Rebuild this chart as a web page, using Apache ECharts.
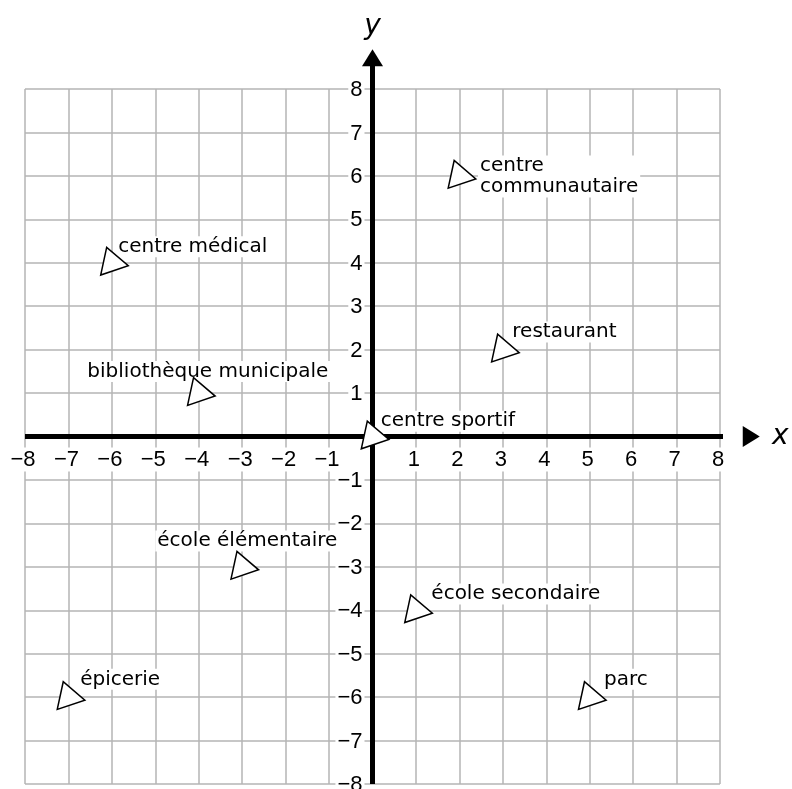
<!DOCTYPE html>
<html>
<head>
<meta charset="utf-8">
<script src="https://cdn.jsdelivr.net/npm/echarts@6/dist/echarts.min.js"></script>
<style>
html,body{margin:0;padding:0;background:#fff;}
#chart{width:792px;height:789px;}
</style>
</head>
<body>
<div id="chart"></div>
<script>
// ---- data ----
const places = ['centre communautaire', 'centre médical', 'restaurant', 'bibliothèque municipale', 'centre sportif', 'école élémentaire', 'école secondaire', 'épicerie', 'parc'];
const placeLabels = ['centre\ncommunautaire', 'centre médical', 'restaurant', 'bibliothèque municipale', 'centre sportif', 'école élémentaire', 'école secondaire', 'épicerie', 'parc'];
const placeX = [2, -6, 3, -4, 0, -3, 1, -7, 5];
const placeY = [6, 4, 2, 1, 0, -3, -4, -6, -6];
const axisMin = -8;
const axisMax = 8;
const axisStep = 1;
const axisArrowReach = 8.6;   // where the thick axis line stops (axis units)
const axisArrowCenter = 8.72; // centre of the arrow head (axis units)

// ---- layout ----
const GRID_LEFT = 25, GRID_TOP = 89, GRID_SIZE = 695;
const labelOffsets = [[18.6, 0.6], [4.4, -16], [7.5, -17.6], [-113.4, -21.6], [6.2, -15.3], [-86.9, -25.8], [13.4, -16.3], [9.8, -17.8], [12.3, -17.8]];

const FONT = 'DejaVu Sans';
const TICK_FONT = 'Liberation Sans';
function fmtTick(v) {
  if (v === 0) return '';
  const s = v < 0 ? '\u2212' + (-v) : String(v);
  return '{t|' + s + '}';
}

const chart = echarts.init(document.getElementById('chart'), null, {renderer: 'canvas'});

const triPath = 'path://M0 27.7 L6 0 L27.6 18.4 Z';

const option = {
  animation: false,
  backgroundColor: '#fff',
  grid: {left: GRID_LEFT, top: GRID_TOP, width: GRID_SIZE, height: GRID_SIZE, containLabel: false, outerBoundsMode: 'none'},
  xAxis: {
    type: 'value', min: axisMin, max: axisMax, interval: axisStep,
    position: 'bottom', offset: -GRID_SIZE / 2,
    axisLine: {show: true, onZero: false, lineStyle: {color: 'rgba(0,0,0,0)', width: 1}},
    axisTick: {show: false},
    splitLine: {show: true, showMinLine: true, showMaxLine: true, lineStyle: {color: '#b4b4b4', width: 1.5}},
    axisLabel: {
      margin: 11, formatter: fmtTick, showMinLabel: true, showMaxLabel: true,
      rich: {t: {fontFamily: TICK_FONT, fontSize: 22, color: '#000', backgroundColor: '#fff', padding: [1, 4, 1, 0]}}
    },
    name: 'x', nameLocation: 'end', nameGap: 52,
    nameTextStyle: {fontFamily: FONT, fontStyle: 'italic', fontSize: 28, color: '#000', verticalAlign: 'middle', align: 'left'}
  },
  yAxis: {
    type: 'value', min: axisMin, max: axisMax, interval: axisStep,
    position: 'left', offset: -GRID_SIZE / 2,
    axisLine: {show: true, onZero: false, lineStyle: {color: 'rgba(0,0,0,0)', width: 1}},
    axisTick: {show: false},
    splitLine: {show: true, showMinLine: true, showMaxLine: true, lineStyle: {color: '#b4b4b4', width: 1.5}},
    axisLabel: {
      margin: 8, formatter: fmtTick, showMinLabel: true, showMaxLabel: true,
      rich: {t: {fontFamily: TICK_FONT, fontSize: 22, color: '#000', backgroundColor: '#fff', padding: [2, 2, 0, 2]}}
    },
    name: 'y', nameLocation: 'end', nameGap: 48,
    nameTextStyle: {fontFamily: FONT, fontStyle: 'italic', fontSize: 28, color: '#000', align: 'center', verticalAlign: 'bottom'}
  },
  series: [
    {
      type: 'scatter', z: 3, clip: false, symbol: 'circle', symbolSize: 1,
      itemStyle: {color: 'rgba(0,0,0,0)', opacity: 1},
      data: places.map((p, i) => ({
        name: p, value: [placeX[i], placeY[i]],
        label: {
          show: true, position: 'inside', align: 'left', verticalAlign: 'middle',
          offset: labelOffsets[i], formatter: placeLabels[i],
          fontFamily: FONT, fontSize: 20, lineHeight: 21, color: '#000', opacity: 1,
          backgroundColor: '#fff', padding: [0, 2]
        }
      })),
      silent: true
    },
    {
      type: 'line', z: 4, clip: false, symbol: 'none', silent: true,
      lineStyle: {color: '#000', width: 5, opacity: 1},
      data: [[axisMin, 0], [axisArrowReach, 0]]
    },
    {
      type: 'line', z: 4, clip: false, symbol: 'none', silent: true,
      lineStyle: {color: '#000', width: 5, opacity: 1},
      data: [[0, axisMin], [0, axisArrowReach]]
    },
    {
      type: 'scatter', z: 4, clip: false, silent: true, symbol: 'triangle',
      symbolSize: [21, 17],
      itemStyle: {color: '#000', opacity: 1},
      data: [
        {value: [axisArrowCenter, 0], symbolRotate: -90},
        {value: [0, axisArrowCenter], symbolRotate: 0}
      ]
    },
    {
      type: 'scatter', z: 5, clip: false, silent: true,
      symbol: triPath, symbolSize: [27.6, 27.7], symbolOffset: [2.6, -1.55],
      itemStyle: {color: '#fff', borderColor: '#000', borderWidth: 1.5, opacity: 1},
      data: places.map((p, i) => ({name: p, value: [placeX[i], placeY[i]]}))
    }
  ]
};
chart.setOption(option);
</script>
</body>
</html>
